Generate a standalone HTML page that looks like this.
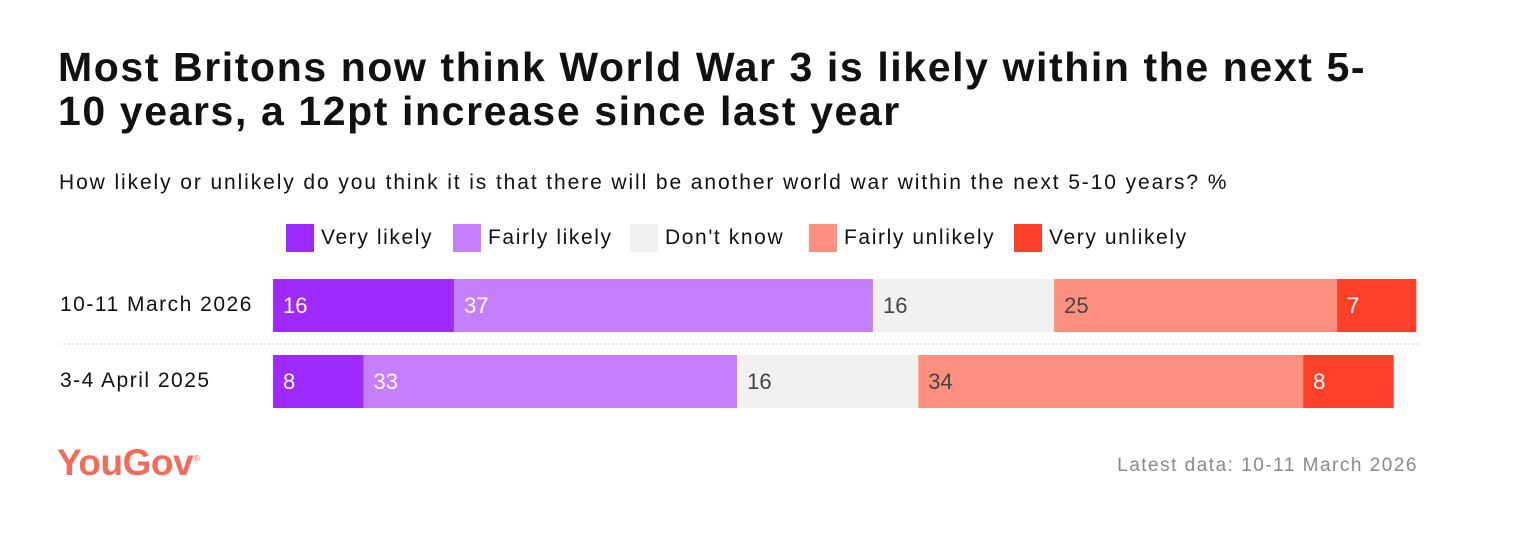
<!DOCTYPE html>
<html><head><meta charset="utf-8"><style>
body{margin:0;width:1526px;height:541px;background:#fff;font-family:"Liberation Sans",sans-serif;overflow:hidden;position:relative}
.abs{position:absolute}
h1{position:absolute;left:58px;top:45px;margin:0;font-size:41px;line-height:44px;font-weight:bold;color:#111;letter-spacing:1.6px;width:1440px;white-space:nowrap}
.sub{left:59px;top:171px;font-size:21px;letter-spacing:1.9px;color:#111;white-space:nowrap}
.leg{top:224px;height:28px;font-size:21px;letter-spacing:1.6px;color:#111;display:flex;align-items:center;white-space:nowrap}
.leg span.sw{width:28px;height:28px;display:inline-block;margin-right:7px}
.rowlab{left:60px;font-size:21px;letter-spacing:1.5px;color:#111;white-space:nowrap}
</style></head><body>
<h1>Most Britons now think World War 3 is likely within the next 5-<br>10 years, a 12pt increase since last year</h1>
<div class="abs sub">How likely or unlikely do you think it is that there will be another world war within the next 5-10 years? %</div>
<div id="legend"></div>
<svg id="chart" class="abs" style="left:0;top:0" width="1526" height="541"></svg>
<div class="abs" style="left:57px;top:442px;font-size:37px;font-weight:bold;color:#f26b5b;letter-spacing:-0.5px">YouGov<sup style="font-size:9px;font-weight:normal">®</sup></div>
<div class="abs" style="right:108px;top:455px;font-size:19px;letter-spacing:1.5px;color:#8a8a8a;white-space:nowrap">Latest data: 10-11 March 2026</div>
<script>
const categories=["Very likely","Fairly likely","Don't know","Fairly unlikely","Very unlikely"];
const rowLabels=["10-11 March 2026","3-4 April 2025"];
const march2026=[16,37,16,25,7];
const april2025=[8,33,16,34,8];
const colors=["#9f2aff","#c57ffc","#f1f1f1","#ff8f7e","#ff412c"];
const textColors=["#fff","#fff","#444","#444","#fff"];
const legendX=[286,453,630,809,1014];
const series=[march2026,april2025];
const x0=273,unit=11.32,rowTop=[279,355],barH=53;
const xs=v=>v*unit;
const ns="http://www.w3.org/2000/svg";
const svg=document.getElementById('chart');
const leg=document.getElementById('legend');
categories.forEach((c,i)=>{
  const d=document.createElement('div');
  d.className='abs leg';d.style.left=legendX[i]+'px';
  
  
  d.innerHTML='<span class="sw" style="background:'+colors[i]+'"></span>'+c;
  leg.appendChild(d);
});
series.forEach((vals,r)=>{
  const lab=document.createElement('div');
  lab.className='abs rowlab';lab.style.top=(rowTop[r]+14)+'px';lab.textContent=rowLabels[r];
  
  
  document.body.appendChild(lab);
  let x=x0;
  vals.forEach((v,i)=>{
    const rect=document.createElementNS(ns,'rect');
    rect.setAttribute('x',x);rect.setAttribute('y',rowTop[r]);
    rect.setAttribute('width',xs(v));rect.setAttribute('height',barH);
    rect.setAttribute('fill',colors[i]);
    
    
    svg.appendChild(rect);
    const t=document.createElementNS(ns,'text');
    t.setAttribute('x',x+10);t.setAttribute('y',rowTop[r]+34);
    t.setAttribute('font-size','22');t.setAttribute('fill',textColors[i]);
    t.setAttribute('font-family','Liberation Sans, sans-serif');
    t.textContent=v;
    
    
    svg.appendChild(t);
    x+=xs(v);
  });
});
const ln=document.createElementNS(ns,'line');
ln.setAttribute('x1',60);ln.setAttribute('x2',1418);ln.setAttribute('y1',344);ln.setAttribute('y2',344);
ln.setAttribute('stroke','#ccc');ln.setAttribute('stroke-dasharray','2,2');


svg.appendChild(ln);
</script>
</body></html>
